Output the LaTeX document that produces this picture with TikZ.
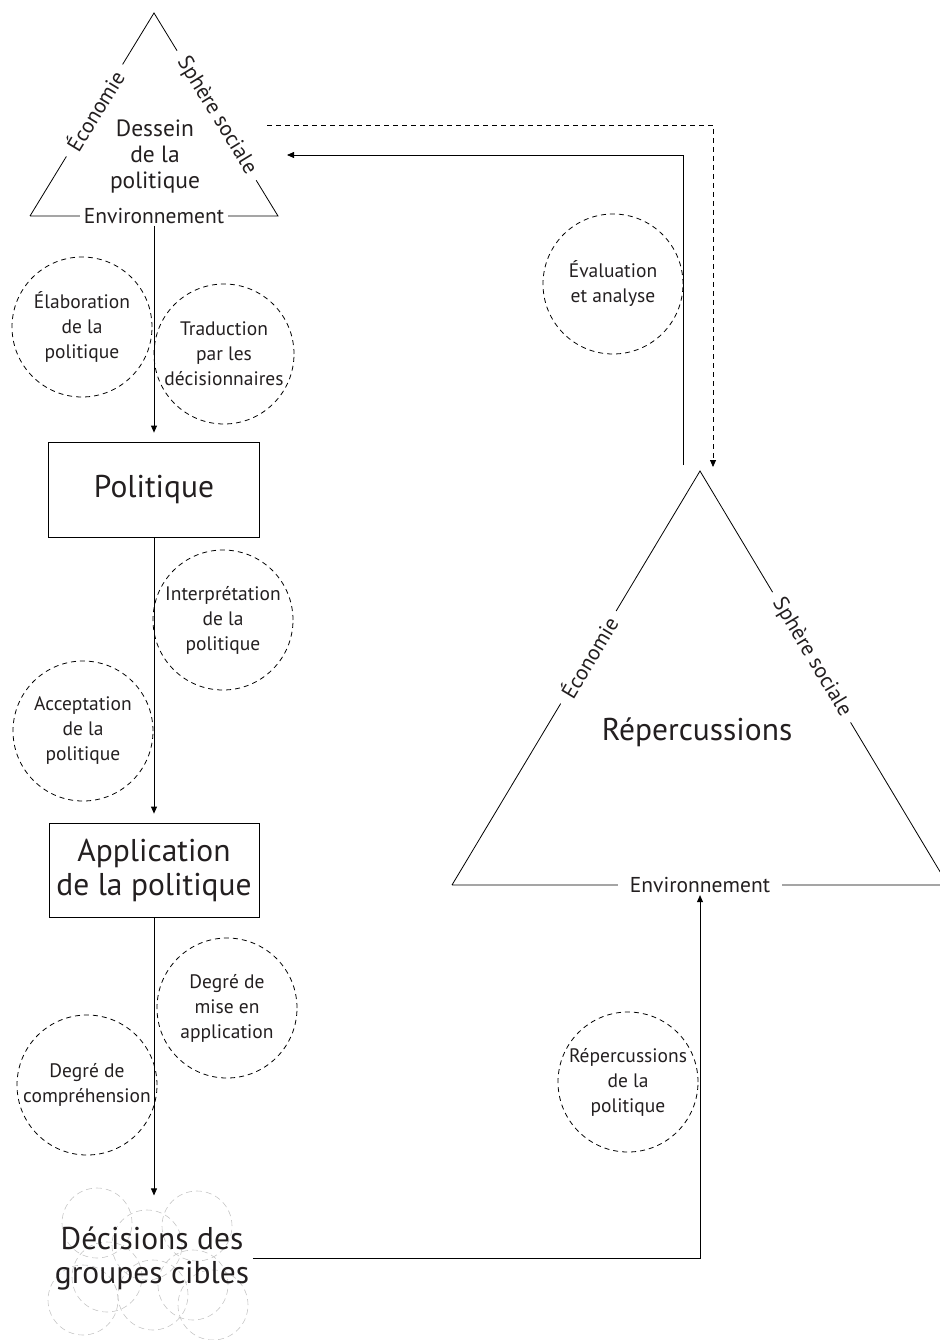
\documentclass[tikz,border=0pt]{standalone}
\usepackage{fontspec}
\setmainfont{PT Sans}
\usetikzlibrary{arrows.meta,positioning,calc}
\definecolor{ink}{HTML}{231F20}
\newcommand{\taille}[2]{\fontsize{#1}{#2}\selectfont}

\begin{document}
\begin{tikzpicture}[x=1pt,y=-1pt,line width=0.8pt,
  >={Triangle[length=7pt,width=6pt]},
  cercle/.style={circle,draw,dash pattern=on 5pt off 4pt,minimum size=140pt,inner sep=0pt,
    align=center,text=ink,font=\taille{19.5}{25}},
  boite/.style={draw,align=center,text=ink,font=\taille{31.5}{34}},
  cote/.style={sloped,fill=white,inner xsep=9pt,inner ysep=2pt,text=ink,font=\taille{21.5}{24}},
  grappe/.style={circle,draw=gray!45,line width=0.6pt,dash pattern=on 6pt off 4pt,minimum size=70pt}]
  \useasboundingbox (0,0) rectangle (939,1340);

  % groupes cibles (fond)
  \foreach \cx/\cy [count=\i] in {97/1223,197/1226,147/1245,107/1277,193/1285,83/1300,153/1295,213/1305}
    \node[grappe] (g\i) at (\cx,\cy) {};

  % triangle du haut
  \coordinate (hautA) at (154,13);
  \coordinate (hautG) at (30,216);
  \coordinate (hautD) at (278,216);
  \draw (hautG) -- node[cote,pos=0.52] (eco1) {Économie} (hautA)
    -- node[cote,pos=0.505] (soc1) {Sphère sociale} (hautD)
    -- node[cote,inner xsep=4pt] (env1) {Environnement} (hautG);
  \node[align=center,text=ink,font=\taille{23.5}{26}] (dessein) at (155,157) {Dessein\\de la\\politique};

  % colonne de gauche
  \node[boite,minimum width=211pt,minimum height=95pt] (politique) at (154,489.5) {Politique};
  \node[boite,minimum width=210pt,minimum height=94pt] (application) at (154,870) {Application\\de la politique};
  \node[align=center,text=ink,font=\taille{31.5}{34}] (decisions) at (152,1258) {Décisions des\\groupes cibles};

  \node[cercle] (elab) at (82,327) {Élaboration\\de la\\politique};
  \node[cercle] (trad) at (224,354) {Traduction\\par les\\décisionnaires};
  \node[cercle] (interp) at (223,620) {Interprétation\\de la\\politique};
  \node[cercle] (accept) at (83,731) {Acceptation\\de la\\politique};
  \node[cercle] (mise) at (227,1008) {Degré de\\mise en\\application};
  \node[cercle] (compr) at (87,1085) {Degré de\\compréhension};

  \draw[->,shorten >=9pt] (env1.south) -- (env1.south |- politique.north);
  \draw[->,shorten >=9pt] (politique.south) -- (application.north);
  \draw[->] (application.south) -- ++(0,278);

  % triangle de droite
  \coordinate (basA) at (700,471);
  \coordinate (basG) at (452,885);
  \coordinate (basD) at (948,885);
  \draw (basG) -- node[cote,pos=0.55] (eco2) {Économie} (basA)
    -- node[cote,pos=0.45] (soc2) {Sphère sociale} (basD)
    -- node[cote,inner xsep=12pt] (env2) {Environnement} (basG);
  \node[text=ink,font=\taille{31.5}{34}] (reper) at (697,732) {Répercussions};

  \node[cercle] (eval) at (613,284) {Évaluation\\et analyse};
  \node[cercle] (repol) at (628,1082) {Répercussions\\de la\\politique};

  % retours
  \coordinate (retour) at (683,465);
  \coordinate (arriveeR) at (287,155);
  \coordinate (departP) at (267,125);
  \coordinate (arriveeP) at (713,467);
  \draw[->] (decisions.east) -| (env2.south);
  \draw[->] (retour) |- (arriveeR);
  \draw[->,dash pattern=on 5pt off 4pt] (departP) -| (arriveeP);
\end{tikzpicture}
\end{document}
